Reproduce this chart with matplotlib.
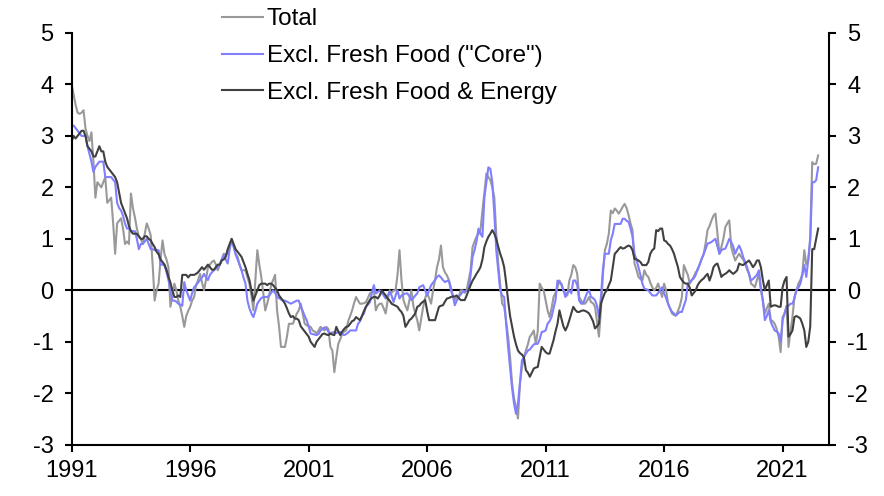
import numpy as np
import pandas as pd
import matplotlib
matplotlib.use("Agg")
import matplotlib.pyplot as plt

# Japan CPI, % y/y, monthly from Jan 1991 (one row per year)
total = [
    4.0, 3.8, 3.6, 3.45, 3.43, 3.45, 3.5, 3.14, 3.0, 2.9, 3.07, 2.5,
    1.8, 2.1, 2.05, 2.0, 2.1, 2.2, 1.7, 1.75, 1.8, 1.3, 0.71, 1.3,
    1.35, 1.4, 1.2, 0.9, 0.95, 0.9, 1.88, 1.6, 1.42, 1.2, 1.04, 1.0,
    0.9, 1.1, 1.3, 1.2, 1.07, 0.5, -0.2, 0.0, 0.13, 0.6, 0.97, 0.7,
    0.6, 0.45, -0.32, -0.1, 0.13, 0.0, -0.2, -0.32, -0.5, -0.71, -0.5, -0.4,
    -0.32, -0.2, -0.13, 0.1, 0.2, 0.32, 0.15, 0.0, 0.2, 0.45, 0.5, 0.55,
    0.58, 0.5, 0.39, 0.5, 0.6, 0.71, 0.7, 0.71, 0.85, 1.0, 0.85, 0.71,
    0.65, 0.5, 0.39, 0.39, 0.39, 0.25, 0.13, -0.1, -0.39, 0.2, 0.78, 0.5,
    0.26, -0.05, -0.39, -0.26, -0.1, 0.1, 0.2, 0.3, -0.39, -0.7, -1.1, -1.1,
    -1.1, -0.9, -0.65, -0.65, -0.65, -0.55, -0.45, -0.39, -0.26, -0.45, -0.65, -0.68,
    -0.7, -0.71, -0.78, -0.8, -0.84, -0.78, -0.71, -0.75, -0.78, -0.71, -0.75, -1.1,
    -1.17, -1.59, -1.3, -1.04, -0.95, -0.84, -0.8, -0.78, -0.6, -0.5, -0.39, -0.25,
    -0.13, -0.2, -0.26, -0.26, -0.25, -0.23, -0.15, -0.06, -0.03, 0.0, -0.39, -0.3,
    -0.26, -0.26, -0.35, -0.45, -0.2, 0.0, -0.05, 0.0, 0.0, 0.3, 0.78, 0.2,
    -0.19, -0.3, -0.39, -0.2, 0.0, -0.3, -0.45, -0.58, -0.78, -0.55, -0.32, -0.15,
    -0.06, -0.15, -0.26, 0.0, 0.2, 0.45, 0.6, 0.87, 0.45, 0.35, 0.29, 0.2,
    0.06, -0.1, -0.19, -0.13, -0.13, 0.0, 0.0, -0.05, 0.0, 0.2, 0.39, 0.84,
    0.95, 1.04, 1.1, 1.17, 1.55, 1.9, 2.27, 2.2, 2.14, 2.0, 1.81, 1.1,
    0.52, 0.1, -0.26, -0.32, -0.6, -0.9, -1.3, -1.81, -2.1, -2.27, -2.49, -1.81,
    -1.5, -1.3, -1.17, -1.05, -0.9, -0.85, -0.78, -1.04, -0.8, 0.13, 0.05, 0.0,
    -0.2, -0.39, -0.52, -0.35, -0.13, -0.05, 0.06, 0.19, 0.1, 0.0, -0.06, -0.1,
    0.19, 0.3, 0.49, 0.45, 0.32, -0.13, -0.2, -0.25, -0.26, -0.2, -0.13, -0.23,
    -0.25, -0.32, -0.6, -0.9, -0.39, 0.3, 0.78, 0.9, 1.1, 1.55, 1.5, 1.59,
    1.55, 1.49, 1.55, 1.62, 1.68, 1.6, 1.46, 1.3, 1.17, 0.52, 0.4, 0.26,
    0.22, 0.19, 0.39, 0.3, 0.26, 0.15, 0.06, 0.0, 0.05, 0.13, 0.0, -0.13,
    0.13, 0.0, -0.26, -0.35, -0.45, -0.48, -0.49, -0.4, -0.3, -0.13, 0.49, 0.39,
    0.3, 0.13, 0.2, 0.26, 0.35, 0.39, 0.5, 0.61, 0.7, 0.91, 1.17, 1.25,
    1.36, 1.45, 1.49, 1.1, 0.71, 0.84, 1.0, 1.23, 1.3, 1.36, 0.84, 0.7,
    0.58, 0.65, 0.71, 0.65, 0.6, 0.52, 0.4, 0.32, 0.13, 0.1, 0.06, 0.2,
    0.32, 0.0, -0.2, -0.45, -0.35, -0.26, -0.58, -0.6, -0.65, -0.75, -0.9, -1.2,
    -0.52, -0.45, -0.3, -1.1, -0.8, -0.52, -0.13, 0.0, 0.13, 0.2, 0.32, 0.78,
    0.5, 0.58, 1.04, 2.49, 2.45, 2.46, 2.62,
]

core = [
    3.2, 3.2, 3.15, 3.1, 3.05, 3.0, 3.0, 3.0, 2.8, 2.65, 2.5, 2.3,
    2.4, 2.45, 2.5, 2.5, 2.5, 2.2, 2.2, 2.2, 2.2, 2.15, 2.1, 1.7,
    1.6, 1.55, 1.45, 1.3, 1.2, 1.2, 1.15, 1.15, 1.15, 1.0, 0.8, 0.9,
    0.9, 0.95, 1.0, 0.9, 0.8, 0.8, 0.78, 0.78, 0.78, 0.5, 0.5, 0.48,
    0.35, 0.2, 0.0, -0.2, -0.2, -0.22, -0.26, -0.28, -0.3, 0.16, 0.0, -0.1,
    -0.2, -0.05, 0.06, 0.1, 0.15, 0.2, 0.25, 0.32, 0.25, 0.2, 0.3, 0.35,
    0.39, 0.42, 0.45, 0.5, 0.6, 0.68, 0.6, 0.52, 0.8, 0.97, 0.85, 0.7,
    0.6, 0.5, 0.39, 0.25, 0.13, -0.2, -0.35, -0.45, -0.52, -0.4, -0.26, -0.2,
    -0.15, -0.13, -0.13, -0.13, -0.1, -0.05, 0.0, -0.05, -0.13, -0.15, -0.18, -0.2,
    -0.2, -0.22, -0.24, -0.26, -0.24, -0.22, -0.2, -0.2, -0.32, -0.4, -0.5, -0.58,
    -0.7, -0.84, -0.85, -0.86, -0.87, -0.85, -0.78, -0.75, -0.72, -0.75, -0.8, -0.84,
    -0.82, -0.81, -0.83, -0.81, -0.81, -0.85, -0.87, -0.85, -0.82, -0.78, -0.78, -0.78,
    -0.78, -0.65, -0.6, -0.5, -0.45, -0.32, -0.28, -0.23, -0.05, 0.1, -0.06, -0.03,
    0.0, -0.05, -0.1, -0.16, -0.1, -0.03, -0.1, -0.23, -0.1, 0.0, -0.16, -0.1,
    -0.08, -0.06, -0.06, -0.12, -0.19, -0.15, -0.1, -0.06, 0.06, 0.08, 0.1, 0.0,
    -0.1, 0.0, 0.1, 0.15, 0.2, 0.26, 0.29, 0.25, 0.2, 0.16, 0.18, 0.19,
    0.0, -0.1, -0.29, -0.2, -0.13, -0.08, -0.03, -0.02, -0.01, 0.0, 0.3, 0.65,
    0.78, 0.95, 1.2, 1.1, 1.04, 1.81, 2.1, 2.39, 2.36, 2.1, 1.5, 0.78,
    0.4, 0.0, -0.1, -0.13, -0.65, -1.1, -1.49, -1.9, -2.2, -2.4, -2.2, -1.8,
    -1.36, -1.3, -1.23, -1.17, -1.15, -1.1, -1.05, -1.04, -1.04, -0.95, -0.81, -0.8,
    -0.78, -0.65, -0.6, -0.52, -0.35, -0.19, 0.19, 0.15, 0.13, 0.0, -0.13, -0.05,
    0.0, -0.06, 0.19, 0.19, 0.1, -0.2, -0.26, -0.26, -0.15, -0.05, 0.0, -0.13,
    -0.15, -0.19, -0.3, -0.52, -0.13, 0.4, 0.71, 0.71, 0.71, 0.97, 1.1, 1.29,
    1.29, 1.29, 1.29, 1.39, 1.39, 1.35, 1.33, 1.2, 1.04, 0.71, 0.6, 0.45,
    0.3, 0.13, 0.03, 0.02, 0.0, -0.05, -0.1, -0.1, -0.1, -0.05, 0.0, 0.06,
    -0.06, -0.15, -0.26, -0.35, -0.42, -0.45, -0.49, -0.45, -0.42, -0.42, -0.3, -0.19,
    0.13, 0.15, 0.2, 0.23, 0.3, 0.42, 0.5, 0.61, 0.7, 0.8, 0.91, 0.92,
    0.94, 0.97, 1.0, 0.85, 0.71, 0.78, 0.8, 0.81, 0.9, 1.0, 0.94, 0.85,
    0.71, 0.8, 0.87, 0.78, 0.65, 0.55, 0.45, 0.32, 0.19, 0.22, 0.26, 0.3,
    0.39, 0.06, -0.2, -0.58, -0.5, -0.39, -0.61, -0.7, -0.78, -0.8, -0.84, -1.0,
    -0.58, -0.45, -0.32, -0.3, -0.26, -0.26, -0.15, 0.0, 0.05, 0.13, 0.3, 0.49,
    0.26, 0.6, 0.97, 2.1, 2.1, 2.14, 2.39,
]

core_core = [
    2.9, 3.0, 2.95, 3.0, 3.05, 3.1, 3.1, 3.0, 2.8, 2.75, 2.7, 2.6,
    2.6, 2.7, 2.8, 2.7, 2.7, 2.5, 2.4, 2.35, 2.3, 2.25, 2.2, 2.1,
    1.9, 1.7, 1.6, 1.5, 1.4, 1.25, 1.15, 1.1, 1.1, 1.1, 1.05, 1.0,
    1.0, 1.05, 1.05, 1.0, 0.97, 0.9, 0.84, 0.75, 0.7, 0.6, 0.55, 0.5,
    0.4, 0.26, 0.15, 0.0, -0.13, -0.13, -0.1, -0.13, 0.3, 0.3, 0.3, 0.25,
    0.3, 0.3, 0.3, 0.32, 0.35, 0.4, 0.45, 0.4, 0.45, 0.5, 0.45, 0.4,
    0.4, 0.45, 0.5, 0.5, 0.58, 0.6, 0.65, 0.8, 0.9, 1.0, 0.9, 0.8,
    0.75, 0.7, 0.65, 0.55, 0.45, 0.32, 0.2, 0.0, -0.2, -0.1, 0.0, 0.1,
    0.13, 0.13, 0.13, 0.1, 0.13, 0.13, 0.1, 0.05, 0.0, -0.1, -0.15, -0.2,
    -0.26, -0.35, -0.45, -0.52, -0.5, -0.55, -0.55, -0.58, -0.7, -0.75, -0.8, -0.85,
    -0.9, -1.0, -1.05, -1.1, -1.0, -0.95, -0.9, -0.85, -0.84, -0.86, -0.87, -0.84,
    -0.86, -0.87, -0.71, -0.8, -0.87, -0.8, -0.75, -0.71, -0.7, -0.65, -0.6, -0.58,
    -0.52, -0.55, -0.58, -0.5, -0.4, -0.32, -0.25, -0.19, -0.15, -0.13, -0.13, -0.16,
    -0.1, 0.0, -0.05, -0.1, -0.16, -0.2, -0.26, -0.28, -0.3, -0.32, -0.38, -0.42,
    -0.5, -0.71, -0.65, -0.58, -0.55, -0.5, -0.45, -0.32, -0.3, -0.25, -0.22, -0.19,
    -0.4, -0.58, -0.58, -0.58, -0.58, -0.45, -0.32, -0.3, -0.29, -0.22, -0.16, -0.15,
    -0.13, -0.12, -0.12, -0.1, -0.15, -0.19, -0.19, -0.19, -0.1, 0.0, 0.1, 0.19,
    0.25, 0.32, 0.38, 0.45, 0.6, 0.84, 0.95, 1.04, 1.1, 1.17, 1.1, 1.0,
    0.85, 0.71, 0.6, 0.45, 0.15, -0.2, -0.5, -0.7, -0.9, -1.05, -1.17, -1.22,
    -1.25, -1.3, -1.55, -1.6, -1.68, -1.6, -1.52, -1.5, -1.49, -1.3, -1.1, -1.15,
    -1.2, -1.23, -1.23, -1.1, -0.97, -0.8, -0.65, -0.39, -0.55, -0.7, -0.78, -0.7,
    -0.58, -0.45, -0.32, -0.38, -0.42, -0.42, -0.4, -0.39, -0.4, -0.42, -0.45, -0.52,
    -0.6, -0.74, -0.7, -0.65, -0.26, -0.15, -0.05, 0.0, 0.1, 0.19, 0.45, 0.71,
    0.75, 0.8, 0.84, 0.81, 0.82, 0.85, 0.87, 0.85, 0.78, 0.61, 0.6, 0.58,
    0.55, 0.49, 0.49, 0.49, 0.55, 0.71, 0.78, 0.81, 1.17, 1.15, 1.2, 1.2,
    0.97, 0.95, 0.9, 0.87, 0.8, 0.71, 0.58, 0.45, 0.26, 0.2, 0.15, 0.13,
    0.13, 0.05, -0.1, -0.05, 0.0, 0.1, 0.16, 0.2, 0.23, 0.28, 0.32, 0.19,
    0.3, 0.45, 0.5, 0.52, 0.4, 0.26, 0.3, 0.32, 0.35, 0.39, 0.35, 0.32,
    0.35, 0.39, 0.52, 0.5, 0.49, 0.52, 0.55, 0.58, 0.52, 0.45, 0.5, 0.58,
    0.58, 0.45, 0.2, 0.0, 0.1, 0.19, -0.32, -0.3, -0.29, -0.3, -0.32, -0.32,
    0.06, 0.19, 0.26, -0.9, -0.85, -0.78, -0.52, -0.5, -0.52, -0.55, -0.65, -0.78,
    -1.1, -1.0, -0.7, 0.8, 0.8, 1.0, 1.2,
]

labels = ["Total", 'Excl. Fresh Food ("Core")', "Excl. Fresh Food & Energy"]
colors = ["#999999", "#7f7fff", "#404040"]
year_ticks = [1991, 1996, 2001, 2006, 2011, 2016, 2021]
y_ticks = [-3, -2, -1, 0, 1, 2, 3, 4, 5]

months = pd.date_range("1991-01-01", periods=len(total), freq="MS")
x = months.year + (months.month - 1) / 12.0

plt.rcParams["font.family"] = ["Liberation Sans", "DejaVu Sans"]
plt.rcParams["axes.unicode_minus"] = False

fig = plt.figure(figsize=(8.84, 4.96), dpi=100)
ax = fig.add_axes([0.0811, 0.1034, 0.8570, 0.8301])

for series, lab, col in zip([total, core, core_core], labels, colors):
    ax.plot(x, series, color=col, lw=1.5, label=lab)

ax.axhline(0, color="black", lw=1.5, zorder=1)

ax.set_xlim(1991, 2022.97)
ax.set_ylim(-3, 5)
ax.set_xticks(year_ticks)
ax.set_xticklabels([str(y) for y in year_ticks])
ax.set_yticks(y_ticks)
ax.tick_params(axis="both", direction="out", length=5, width=1.5,
               labelsize=17, colors="black")
ax.tick_params(axis="y", right=True, labelright=True, pad=8)
ax.tick_params(axis="x", pad=6)

for side in ["left", "right", "bottom"]:
    ax.spines[side].set_linewidth(1.5)
ax.spines["top"].set_visible(False)

fig.legend(loc="upper left", bbox_to_anchor=(222 / 884, 0.983), frameon=False,
           fontsize=17.5, handlelength=1.7, handletextpad=0.15,
           labelspacing=0.6, borderpad=0, borderaxespad=0)

fig.savefig("out.png", dpi=100)
